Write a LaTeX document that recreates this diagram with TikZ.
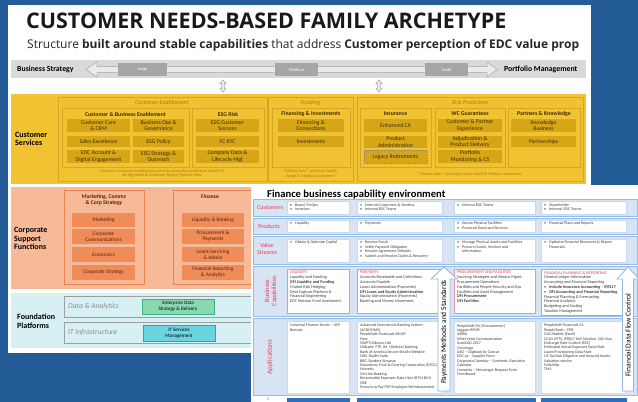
\documentclass[tikz,border=0pt]{standalone}
\usepackage{fontspec}
\setmainfont{Carlito}
\newfontfamily\osans{Open Sans}
\usetikzlibrary{shapes, arrows.meta, positioning, calc}

\definecolor{deskblue}{RGB}{36,92,152}
\definecolor{stripgray}{RGB}{217,217,217}
\definecolor{tagray}{RGB}{166,166,166}
\definecolor{gold}{RGB}{241,194,50}
\definecolor{goldedge}{RGB}{216,166,34}
\definecolor{golddeep}{RGB}{214,166,24}
\definecolor{goldink}{RGB}{62,46,0}
\definecolor{goldital}{RGB}{168,126,18}
\definecolor{salmon}{RGB}{246,186,152}
\definecolor{salmonedge}{RGB}{236,132,82}
\definecolor{tangerine}{RGB}{239,140,88}
\definecolor{rustink}{RGB}{84,34,10}
\definecolor{icefill}{RGB}{214,240,244}
\definecolor{mintfill}{RGB}{136,217,178}
\definecolor{mintedge}{RGB}{56,180,124}
\definecolor{aquafill}{RGB}{106,212,224}
\definecolor{aquaedge}{RGB}{30,168,186}
\definecolor{rowfill}{RGB}{214,228,244}
\definecolor{rowedge}{RGB}{150,188,228}
\definecolor{labelred}{RGB}{228,62,78}
\definecolor{capedge}{RGB}{226,150,170}
\definecolor{arrowedge}{RGB}{150,182,218}
\definecolor{tabblue}{RGB}{46,110,186}
\definecolor{cellink}{RGB}{60,60,60}

% box from corner (x1,y1) to corner (x2,y2)
\newcommand{\panel}[7]{\node[#2, minimum width={(#5-#3)*1pt}, minimum height={(#6-#4)*1pt}] (#1) at ({(#3+#5)/2},{(#4+#6)/2}) {#7};}

\begin{document}
\begin{tikzpicture}[x=1pt, y=-1pt, font=\fontsize{5.8}{6.2}\selectfont]
    % Styles
    \tikzstyle{fillbox} = [rectangle, inner sep=0pt, outer sep=0pt, align=center]
    \tikzstyle{strip} = [fillbox, fill=stripgray]
    \tikzstyle{sizetag} = [fillbox, fill=tagray, text=white, font=\fontsize{4.5}{5}\selectfont]
    \tikzstyle{hollow} = [fill=white!92!black, draw=white!65!black, line width=0.5pt]
    \tikzstyle{goldzone} = [fillbox, fill=gold]
    \tikzstyle{salmonzone} = [fillbox, fill=salmon]
    \tikzstyle{icezone} = [fillbox, fill=icefill]
    \tikzstyle{zonetitle} = [anchor=west, align=left, inner sep=0pt, font=\bfseries\fontsize{8}{8.5}\selectfont]
    \tikzstyle{group} = [fillbox, draw=goldedge, line width=0.6pt]
    \tikzstyle{groupname} = [font=\itshape\fontsize{6}{6}\selectfont, text=goldital]
    \tikzstyle{subname} = [font=\bfseries\fontsize{5.8}{6}\selectfont, text=goldink]
    \tikzstyle{goldcap} = [fillbox, fill=golddeep, text=goldink]
    \tikzstyle{footnote} = [align=center, inner sep=0pt, font=\itshape\fontsize{4.3}{4.7}\selectfont, text=goldital]
    \tikzstyle{corpgroup} = [fillbox, draw=salmonedge, line width=0.8pt]
    \tikzstyle{corpname} = [align=center, font=\bfseries\fontsize{5.6}{6.4}\selectfont, text=rustink]
    \tikzstyle{corpcap} = [fillbox, fill=tangerine, text=rustink, font=\fontsize{5.3}{5.9}\selectfont]
    \tikzstyle{platrow} = [fillbox, draw=white!62!black, line width=0.6pt]
    \tikzstyle{platname} = [anchor=west, inner sep=0pt, text=white!55!black, font=\itshape\fontsize{7.5}{8}\selectfont]
    \tikzstyle{mintbox} = [fillbox, fill=mintfill, draw=mintedge, line width=0.8pt, font=\fontsize{5}{5.6}\selectfont]
    \tikzstyle{aquabox} = [fillbox, fill=aquafill, draw=aquaedge, line width=0.8pt, font=\fontsize{5}{5.6}\selectfont]
    \tikzstyle{band} = [fillbox, fill=rowfill, draw=rowedge, line width=0.7pt]
    \tikzstyle{rowname} = [align=center, inner sep=0pt, text=labelred, font=\fontsize{6}{6.6}\selectfont]
    \tikzstyle{cellbox} = [fillbox, fill=white, draw=rowedge!55, line width=0.4pt]
    \tikzstyle{capcell} = [fillbox, fill=white, draw=capedge, line width=0.6pt]
    \tikzstyle{celltext} = [anchor=north west, inner sep=0pt, align=left, text=cellink, font=\fontsize{4}{4.5}\selectfont]
    \tikzstyle{captext} = [celltext, font=\fontsize{4.2}{4.8}\selectfont]
    \tikzstyle{apptext} = [celltext, font=\fontsize{4}{4.4}\selectfont]
    \tikzstyle{flowarrow} = [fill=white, draw=arrowedge, line width=0.8pt, line join=miter]
    \tikzstyle{flowname} = [rotate=90, inner sep=0pt, font=\fontsize{7.5}{8}\selectfont]

    \useasboundingbox (0,0) rectangle (638,402);
    \fill[deskblue] (0,0) rectangle (638,402);

    % First slide
    \fill[white] (8,5) rectangle (591,353);
    \node[anchor=base west, inner sep=0pt, font=\osans\bfseries\fontsize{21.5}{21.5}\selectfont, text=black!90] (title) at (26,28) {CUSTOMER NEEDS-BASED FAMILY ARCHETYPE};
    \node[anchor=base west, inner sep=0pt, font=\osans\fontsize{12}{12}\selectfont, text=black!85] (subtitle) at (27,48.5) {Structure \textbf{built around stable capabilities} that address \textbf{Customer perception of EDC value prop}};

    % Size strip
    \panel{strip}{strip}{11}{60}{586}{78}{}
    \draw[hollow] (86,69.5) -- (97,62) -- (97,66.5) -- (487,66.5) -- (487,62) -- (497,69.5) -- (487,77) -- (487,72.5) -- (97,72.5) -- (97,77) -- cycle;
    \panel{large}{sizetag}{118}{63}{167}{76}{Large}
    \panel{medium}{sizetag}{275}{63}{318}{76}{Medium}
    \panel{small}{sizetag}{425}{63}{468}{76}{Small}
    \node[anchor=west, inner sep=0pt, font=\bfseries\fontsize{7.8}{7.8}\selectfont] (strategy) at (17,69.5) {Business Strategy};
    \node[anchor=west, inner sep=0pt, font=\bfseries\fontsize{7.8}{7.8}\selectfont] (portfolio) at (504,69.5) {Portfolio Management};
    \draw[hollow, shift={(223,0)}] (0,80) -- (3,83.5) -- (1.4,83.5) -- (1.4,88.5) -- (3,88.5) -- (0,92) -- (-3,88.5) -- (-1.4,88.5) -- (-1.4,83.5) -- (-3,83.5) -- cycle;
    \draw[hollow, shift={(379,0)}] (0,80) -- (3,83.5) -- (1.4,83.5) -- (1.4,88.5) -- (3,88.5) -- (0,92) -- (-3,88.5) -- (-1.4,88.5) -- (-1.4,83.5) -- (-3,83.5) -- cycle;

    % Customer services
    \panel{services}{goldzone}{11}{94}{586}{184}{}
    \node[zonetitle] (servicesname) at (15,139) {Customer\\Services};
    \panel{enablement}{group}{58}{97}{267}{181}{}
    \panel{funding}{group}{268}{97}{353}{181}{}
    \panel{riskprot}{group}{357}{97}{583}{181}{}
    \node[groupname] (enablementname) at (162,102.5) {Customer Enablement};
    \node[groupname] (fundingname) at (310.5,102.5) {Funding};
    \node[groupname] (riskprotname) at (470,102.5) {Risk Protection};

    \panel{custbiz}{group}{62}{108}{189}{167}{}
    \panel{esgrisk}{group}{192}{108}{264}{167}{}
    \panel{fininv}{group}{272}{108}{350}{167}{}
    \panel{insurance}{group}{360}{108}{431}{167}{}
    \panel{wcguar}{group}{435}{108}{505}{167}{}
    \panel{partners}{group}{508}{108}{580}{167}{}
    \node[subname] (custbizname) at (125.5,114) {Customer \& Business Enablement};
    \node[subname] (esgriskname) at (228,114) {ESG Risk};
    \node[subname] (fininvname) at (311,114) {Financing \& Investments};
    \node[subname] (insurancename) at (395.5,114) {Insurance};
    \node[subname] (wcguarname) at (470,114) {WC Guarantees};
    \node[subname] (partnersname) at (544,114) {Partners \& Knowledge};

    \panel{custcare}{goldcap}{67}{119}{130}{132}{Customer Care\\\& CRM}
    \panel{bizops}{goldcap}{133}{119}{184}{132}{Business Ops \&\\Governance}
    \panel{sales}{goldcap}{67}{136}{130}{147}{Sales Excellence}
    \panel{esgpolicy}{goldcap}{133}{136}{184}{147}{ESG Policy}
    \panel{account}{goldcap}{67}{150}{130}{163}{EDC Account \&\\Digital Engagement}
    \panel{esgstrat}{goldcap}{133}{150}{184}{163}{ESG Strategy \&\\Outreach}
    \panel{esgsuccess}{goldcap}{196}{119}{259}{132}{ESG Customer\\Success}
    \panel{kyc}{goldcap}{196}{136}{259}{147}{FC KYC}
    \panel{companydata}{goldcap}{196}{150}{259}{163}{Company Data \&\\Lifecycle Mgt}
    \panel{connections}{goldcap}{278}{119}{344}{132}{Financing \&\\Connections}
    \panel{investments}{goldcap}{278}{136}{344}{147}{Investments}
    \panel{enhancedcx}{goldcap}{364}{119}{427}{132}{Enhanced CX}
    \panel{productadmin}{goldcap}{364}{136}{427}{148}{Product\\Administration}
    \panel{legacy}{goldcap, draw=white!55!black, densely dotted, line width=0.5pt}{364}{150}{427}{163}{Legacy Retirements}
    \panel{partnerexp}{goldcap}{438}{119}{502}{132}{Customer \& Partner\\Experience}
    \panel{adjudication}{goldcap}{438}{136}{502}{148}{Adjudication \&\\Product Delivery}
    \panel{monitoring}{goldcap}{438}{150}{502}{163}{Portfolio\\Monitoring \& CS}
    \panel{knowledge}{goldcap}{511}{119}{576}{132}{Knowledge\\Business}
    \panel{partnerships}{goldcap}{511}{136}{576}{147}{Partnerships}

    \node[footnote] (enablementnote) at (162,173.5) {Common Customer enablement services centrally provided on behalf of\\all Segments \& Customer-facing Product Lines};
    \node[footnote] (fundingnote) at (310.5,173.5) {“Money Now” servicing mainly\\Large \& Medium customers};
    \node[footnote] (riskprotnote) at (470,174) {“Money Later” servicing mainly Small \& Medium customers};

    % Corporate support
    \panel{corporate}{salmonzone}{11}{187}{588}{289}{}
    \node[zonetitle] (corporatename) at (14,238.5) {Corporate\\Support\\Functions};
    \panel{marketing}{corpgroup}{64}{190}{144}{284}{}
    \panel{finance}{corpgroup}{173}{190}{262}{284}{}
    \node[corpname] (marketingname) at (104,200) {Marketing, Comms\\\& Corp Strategy};
    \node[corpname] (financename) at (210,197) {Finance};
    \panel{mktg}{corpcap}{72}{213}{135}{227}{Marketing}
    \panel{comms}{corpcap}{72}{229}{135}{244}{Corporate\\Communications}
    \panel{economics}{corpcap}{72}{247}{135}{262}{Economics}
    \panel{corpstrat}{corpcap}{72}{265}{135}{280}{Corporate Strategy}
    \panel{liquidity}{corpcap}{182}{213}{244}{227}{Liquidity \& Banking}
    \panel{procurement}{corpcap}{182}{229}{244}{244}{Procurement \&\\Payments}
    \panel{loans}{corpcap}{182}{247}{244}{262}{Loans Servicing\\\& Admin}
    \panel{reporting}{corpcap}{182}{265}{244}{280}{Financial Reporting\\\& Analytics}

    % Foundation platforms
    \panel{foundation}{icezone}{11}{293}{588}{348}{}
    \node[zonetitle] (foundationname) at (17,321) {Foundation\\Platforms};
    \panel{datarow}{platrow}{64}{296}{262}{317}{}
    \panel{itrow}{platrow}{64}{322}{262}{343}{}
    \node[platname] (dataname) at (68,306.5) {Data \& Analytics};
    \node[platname] (itname) at (68,332.5) {IT Infrastructure};
    \panel{enterprisedata}{mintbox}{142}{299}{214}{314}{Enterprise Data\\Strategy \& Delivery}
    \panel{itservices}{aquabox}{143}{325}{215}{341}{IT Services\\Management}

    % Second slide
    \fill[white] (251,185) rectangle (640,404);
    \node[anchor=base west, inner sep=0pt, font=\bfseries\fontsize{10.6}{10.6}\selectfont] (envtitle) at (267,197) {Finance business capability environment};

    \panel{customers}{band}{253}{199}{637}{216}{}
    \panel{products}{band}{253}{218}{637}{234}{}
    \panel{streams}{band}{253}{236}{637}{264}{}
    \panel{capabilities}{band}{253}{266}{637}{316}{}
    \panel{applications}{band}{253}{318}{637}{395}{}
    \node[rowname] (customersname) at (270,208) {Customers};
    \node[rowname] (productsname) at (269,226.5) {Products};
    \node[rowname] (streamsname) at (267,249) {Value\\Streams};
    \node[rowname, rotate=90, font=\fontsize{6.5}{7}\selectfont] (capabilitiesname) at (271,291) {Business\\Capabilities};
    \node[rowname, rotate=90, font=\fontsize{7}{7}\selectfont] (applicationsname) at (270,357) {Applications};

    % Customers
    \panel{cust1}{cellbox}{287}{201}{349}{214.5}{}
    \panel{cust2}{cellbox}{357}{201}{442}{214.5}{}
    \panel{cust3}{cellbox}{454}{201}{535}{214.5}{}
    \panel{cust4}{cellbox}{541}{201}{626}{214.5}{}
    \node[celltext] (cust1txt) at ([shift={(3,2.5)}]cust1.north west) {\textbullet\hspace{3pt}Board, FinOps\\\textbullet\hspace{3pt}Investors};
    \node[celltext] (cust2txt) at ([shift={(3,2.5)}]cust2.north west) {\textbullet\hspace{3pt}External Customers \& Vendors\\\textbullet\hspace{3pt}Internal EDC Teams};
    \node[celltext] (cust3txt) at ([shift={(3,2.5)}]cust3.north west) {\textbullet\hspace{3pt}Internal EDC Teams};
    \node[celltext] (cust4txt) at ([shift={(3,2.5)}]cust4.north west) {\textbullet\hspace{3pt}Shareholder\\\textbullet\hspace{3pt}Internal \ EDC Teams};

    % Products
    \panel{prod1}{cellbox}{287}{220}{349}{232}{}
    \panel{prod2}{cellbox}{357}{220}{442}{232}{}
    \panel{prod3}{cellbox}{454}{220}{535}{232}{}
    \panel{prod4}{cellbox}{541}{220}{626}{232}{}
    \node[celltext] (prod1txt) at ([shift={(3,2)}]prod1.north west) {\textbullet\hspace{3pt}Liquidity};
    \node[celltext] (prod2txt) at ([shift={(3,2)}]prod2.north west) {\textbullet\hspace{3pt}Payments};
    \node[celltext] (prod3txt) at ([shift={(3,2)}]prod3.north west) {\textbullet\hspace{3pt}Secure Physical Facilities\\\textbullet\hspace{3pt}Procured Good and Services};
    \node[celltext] (prod4txt) at ([shift={(3,2)}]prod4.north west) {\textbullet\hspace{3pt}Financial Plans and Reports};

    % Value streams
    \panel{stream1}{cellbox}{287}{239}{349}{262}{}
    \panel{stream2}{cellbox}{357}{239}{442}{262}{}
    \panel{stream3}{cellbox}{454}{239}{535}{262}{}
    \panel{stream4}{cellbox}{541}{239}{626}{262}{}
    \node[celltext] (stream1txt) at ([shift={(3,2)}]stream1.north west) {\textbullet\hspace{3pt}Obtain \& Optimize Capital};
    \node[celltext] (stream2txt) at ([shift={(3,2)}]stream2.north west) {\textbullet\hspace{3pt}Receive Funds\\\textbullet\hspace{3pt}Settle Payment Obligation\\\textbullet\hspace{3pt}Resolve Agreement Defaults\\\textbullet\hspace{3pt}Submit and Resolve Claims \& Recovery};
    \node[celltext] (stream3txt) at ([shift={(3,2)}]stream3.north west) {\textbullet\hspace{3pt}Manage Physical Assets and Facilities\\\textbullet\hspace{3pt}Procure Goods, Services and\\\phantom{\textbullet}\hspace{3pt}Information};
    \node[celltext] (stream4txt) at ([shift={(3,2)}]stream4.north west) {\textbullet\hspace{3pt}Optimize Financial Resources \& Report\\\phantom{\textbullet}\hspace{3pt}Financials};

    % Business capabilities
    \panel{cap1}{capcell}{287}{269}{349}{313}{}
    \panel{cap2}{capcell}{357}{269}{442}{313}{}
    \panel{cap3}{capcell}{454}{269}{535}{313}{}
    \panel{cap4}{capcell}{541}{269}{626}{315}{}
    \node[captext] (cap1txt) at ([shift={(3,2)}]cap1.north west) {{\color{labelred}LIQUIDITY}\\Liquidity and Funding\\\textbf{DFI Liquidity and Funding}\\Market Risk Hedging\\Deal Capture Platform \&\\Financial Engineering\\EDC Pension Fund Investment};
    \node[captext] (cap2txt) at ([shift={(3,2)}]cap2.north west) {{\color{labelred}PAYMENTS}\\Accounts Receivable and Collections\\Accounts Payable\\Loans Administration (Payments)\\\textbf{DFI Loans and Equity Administration}\\Equity Administration (Payments)\\Banking and Money Movement};
    \node[captext] (cap3txt) at ([shift={(3,2)}]cap3.north west) {{\color{labelred}PROCUREMENT AND FACILITIES}\\Sourcing Strategies and Vendor Mgmt.\\Procurement Operations\\Facilities and People Security and Ops\\Facilities and Asset Management\\\textbf{DFI Procurement}\\\textbf{DFI Facilities}};
    \node[captext] (cap4txt) at ([shift={(3,2)}]cap4.north west) {{\color{labelred}FINANCIAL PLANNING \& REPORTING}\\General Ledger Information\\Accounting and Financial Reporting\\\textbullet\hspace{3pt}\textbf{Include Insurance Accounting – IFRS17}\\\textbullet\hspace{3pt}\textbf{DFI Accounting and Financial Reporting}\\Financial Planning \& Forecasting\\Financial Analytics\\Budgeting and Costing\\Taxation Management};

    % Applications
    \panel{app1}{cellbox}{287}{321}{349}{393}{}
    \panel{app2}{cellbox}{357}{321}{442}{393}{}
    \panel{app3}{cellbox}{454}{321}{535}{393}{}
    \panel{app4}{cellbox}{541}{321}{626}{393}{}
    \node[apptext] (app1txt) at ([shift={(3,3)}]app1.north west) {Universal Finance Server – UFS\\Bumpts};
    \node[apptext] (app2txt) at ([shift={(3,3)}]app2.north west) {Advanced Commercial Banking System\\(ACBS/DMS)\\PeopleSoft Financials AR/AP\\Fiser\\SWIFT/Alliance Lite\\Citibank: FTP, IM, Citidirect Banking\\Bank of America Secure Emails/Website\\CIBC Wallet Suite\\BBC: Bankers Almanac\\Depository Trust \& Clearing Corporation (DTCC)\\Moneris\\On-Line Banking\\Recoverable Expenses Data Mart (RTM DM)\\OXE\\Procure to Pay P2P Employee Reimbursement};
    \node[apptext] (app3txt) at ([shift={(3,3)}]app3.north west) {PeopleSoft Fin (Procurement)\\Jaggaer BPMS\\ARIBA\\Mitel Voice Communication\\AutoCAD 2017\\Concierge\\AXO – Clipbook by Concur\\EDC.ca – Supplier Form\\Corporate Calendar – Livevents, Executive\\Calendar\\Livevents – Messenger Request Form\\Frontboard};
    \node[apptext] (app4txt) at ([shift={(3,3)}]app4.north west) {PeopleSoft Financials GL\\PeopleTools – FPR\\CVA Models (Excel)\\GCUS HFTS, IFRS17 SAS Solution, SAS Viya\\Exchange Rate Control (ERC)\\Estimated Actual Exposure Data Mart\\Loans Provisioning Data Mart\\US Tax Due Diligence and Secured Assets\\Valuation service\\FolioHelp\\TM1};

    % Flow arrows
    \draw[flowarrow] (444,267) -- (457,279) -- (450,279) -- (450,391) -- (438,391) -- (438,279) -- (431,279) -- cycle;
    \node[flowname] (paymentsflow) at (444,332) {Payments Methods and Standards};
    \draw[flowarrow] (628,267) -- (639,279) -- (633.5,279) -- (633.5,391) -- (622.5,391) -- (622.5,279) -- (617,279) -- cycle;
    \node[flowname] (dataflow) at (628,335) {Financial Data Flow Control};

    % Tabs at the foot
    \fill[tabblue] (287,398) rectangle (350,404);
    \fill[tabblue] (357,398) rectangle (536,404);
    \fill[tabblue] (541,398) rectangle (627,404);
    \node[inner sep=0pt, text=white!50!black, font=\fontsize{3.5}{3.5}\selectfont] (pagenum) at (268,399.5) {8};

\end{tikzpicture}
\end{document}
